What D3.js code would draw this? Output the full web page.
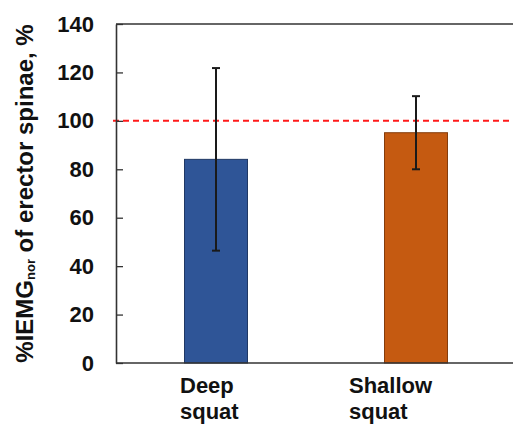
<!DOCTYPE html>
<html>
<head>
<meta charset="utf-8">
<script src="https://cdn.jsdelivr.net/npm/d3@7"></script>
<style>
  body { margin: 0; background: #fff; }
  svg { display: block; }
</style>
</head>
<body>
<div id="chart"></div>
<script>
// values
const categories = ["Deep squat", "Shallow squat"];
const labelLines = [["Deep", "squat"], ["Shallow", "squat"]];
const means = [84.1, 95.1];
const sds = [37.7, 15.1];
const yTicks = [0, 20, 40, 60, 80, 100, 120, 140];
const reference = 100;

const fills = ["#2f5597", "#c55a11"];
const strokes = ["#203864", "#843c0c"];

const width = 513, height = 426;
const margin = {top: 24, right: -3, bottom: 63, left: 116};

const svg = d3.select("#chart").append("svg")
    .attr("width", width)
    .attr("height", height);

const x = d3.scaleBand()
    .domain(categories)
    .range([margin.left, width - margin.right])
    .padding(0);

const y = d3.scaleLinear()
    .domain([0, 140])
    .range([height - margin.bottom, margin.top]);

const barW = x.bandwidth() * 0.315;
const data = categories.map((c, i) => ({cat: c, mean: means[i], sd: sds[i], i}));

// top frame line
svg.append("line")
    .attr("x1", margin.left).attr("x2", width)
    .attr("y1", y(140)).attr("y2", y(140))
    .attr("stroke", "#333").attr("stroke-width", 1.6);

// bars
svg.append("g")
  .selectAll("rect")
  .data(data)
  .join("rect")
    .attr("x", d => x(d.cat) + x.bandwidth() / 2 - barW / 2)
    .attr("y", d => y(d.mean))
    .attr("width", barW)
    .attr("height", d => y(0) - y(d.mean))
    .attr("fill", d => fills[d.i])
    .attr("stroke", d => strokes[d.i])
    .attr("stroke-width", 1);

// reference line
svg.append("line")
    .attr("x1", margin.left - 3).attr("x2", width)
    .attr("y1", y(reference)).attr("y2", y(reference))
    .attr("stroke", "#ff1a1a")
    .attr("stroke-width", 2)
    .attr("stroke-dasharray", "6,4");

// error bars
const err = svg.append("g")
    .attr("stroke", "#1a1a1a")
    .attr("stroke-width", 2)
  .selectAll("g")
  .data(data)
  .join("g")
    .attr("transform", d => `translate(${x(d.cat) + x.bandwidth() / 2},0)`);

err.append("line")
    .attr("y1", d => y(d.mean + d.sd))
    .attr("y2", d => y(d.mean - d.sd));
err.append("line")
    .attr("x1", -4).attr("x2", 4)
    .attr("y1", d => y(d.mean + d.sd)).attr("y2", d => y(d.mean + d.sd));
err.append("line")
    .attr("x1", -4).attr("x2", 4)
    .attr("y1", d => y(d.mean - d.sd)).attr("y2", d => y(d.mean - d.sd));

// y axis with inward ticks
const yAxis = svg.append("g")
    .attr("transform", `translate(${margin.left},0)`)
    .call(d3.axisLeft(y).tickValues(yTicks).tickSize(-7).tickPadding(22).tickSizeOuter(0));
yAxis.select(".domain").attr("stroke", "#333").attr("stroke-width", 1.6);
yAxis.selectAll(".tick line").attr("stroke", "#333").attr("stroke-width", 1.3);
yAxis.selectAll(".tick text")
    .attr("fill", "#111")
    .style("font", "bold 22px Arial, 'Liberation Sans', sans-serif");

// x axis baseline
svg.append("line")
    .attr("x1", margin.left).attr("x2", width)
    .attr("y1", y(0)).attr("y2", y(0))
    .attr("stroke", "#333").attr("stroke-width", 1.6);

// category labels (left aligned blocks)
const labelShift = [-36, -67];
const xl = svg.append("g")
    .style("font", "bold 22px Arial, 'Liberation Sans', sans-serif")
    .attr("fill", "#111")
  .selectAll("text")
  .data(data)
  .join("text")
    .attr("x", d => x(d.cat) + x.bandwidth() / 2 + labelShift[d.i])
    .attr("y", y(0) + 30);
xl.selectAll("tspan")
  .data(d => labelLines[d.i].map(t => ({t, i: d.i})))
  .join("tspan")
    .attr("x", d => x(categories[d.i]) + x.bandwidth() / 2 + labelShift[d.i])
    .attr("dy", (d, j) => j === 0 ? 0 : 26)
    .text(d => d.t);

// y title
const title = svg.append("text")
    .attr("transform", `translate(33,${(y(0) + y(140)) / 2 + 0}) rotate(-90)`)
    .attr("text-anchor", "middle")
    .attr("fill", "#111")
    .style("font", "bold 24px Arial, 'Liberation Sans', sans-serif");
title.append("tspan").text("%IEMG");
title.append("tspan").attr("font-size", "13px").attr("dy", 2).text("nor");
title.append("tspan").attr("dy", -2).text(" of erector spinae, %");
</script>
</body>
</html>
